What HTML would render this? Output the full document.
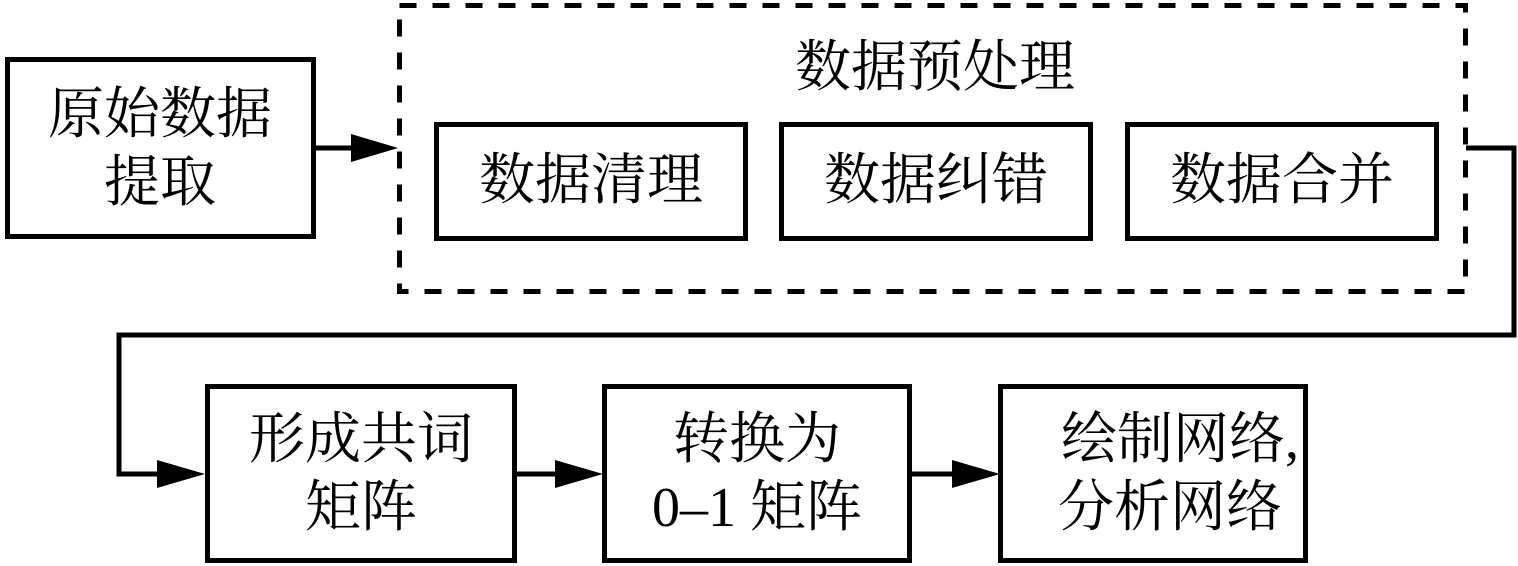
<!DOCTYPE html>
<html><head><meta charset="utf-8"><style>
html,body{margin:0;padding:0;background:#fff;}
svg{display:block}
text{font-family:"Liberation Serif","Noto Serif CJK SC",serif;font-size:56px;fill:#000;text-anchor:middle;dominant-baseline:central}
</style></head><body>
<svg width="1518" height="566" viewBox="0 0 1518 566" xmlns="http://www.w3.org/2000/svg">
<g fill="none" stroke="#000" stroke-width="5">
<rect x="7.5" y="59.5" width="306" height="177"/>
<rect x="399.5" y="5.5" width="1066" height="286" stroke-dasharray="17 16"/>
<rect x="436.5" y="124.5" width="309" height="114"/>
<rect x="781.5" y="124.5" width="309" height="114"/>
<rect x="1127.5" y="124.5" width="309" height="114"/>
<rect x="207.5" y="386.5" width="307" height="174"/>
<rect x="604.5" y="386.5" width="305" height="174"/>
<rect x="1000.5" y="386.5" width="305" height="174"/>
<line x1="315" y1="148" x2="360" y2="148"/>
<polyline points="1466,148 1514,148 1514,335 119,335 119,474 165,474"/>
<line x1="515" y1="474" x2="560" y2="474"/>
<line x1="910" y1="474" x2="957" y2="474"/>
</g>
<g fill="#000">
<polygon points="351,134 398,148 351,162"/>
<polygon points="157,460 205,474 157,488"/>
<polygon points="555,460 603,474 555,488"/>
<polygon points="952,460 1000,474 952,488"/>
</g>
<text x="160" y="115">原始数据</text>
<text x="160" y="183">提取</text>
<text x="935" y="68">数据预处理</text>
<text x="591" y="181">数据清理</text>
<text x="936" y="181">数据纠错</text>
<text x="1282" y="181">数据合并</text>
<text x="361" y="440">形成共词</text>
<text x="361" y="508">矩阵</text>
<text x="757" y="440">转换为</text>
<text x="757" y="508">0–1 矩阵</text>
<text x="1180" y="440">绘制网络,</text>
<text x="1170" y="508">分析网络</text>
</svg>
</body></html>
